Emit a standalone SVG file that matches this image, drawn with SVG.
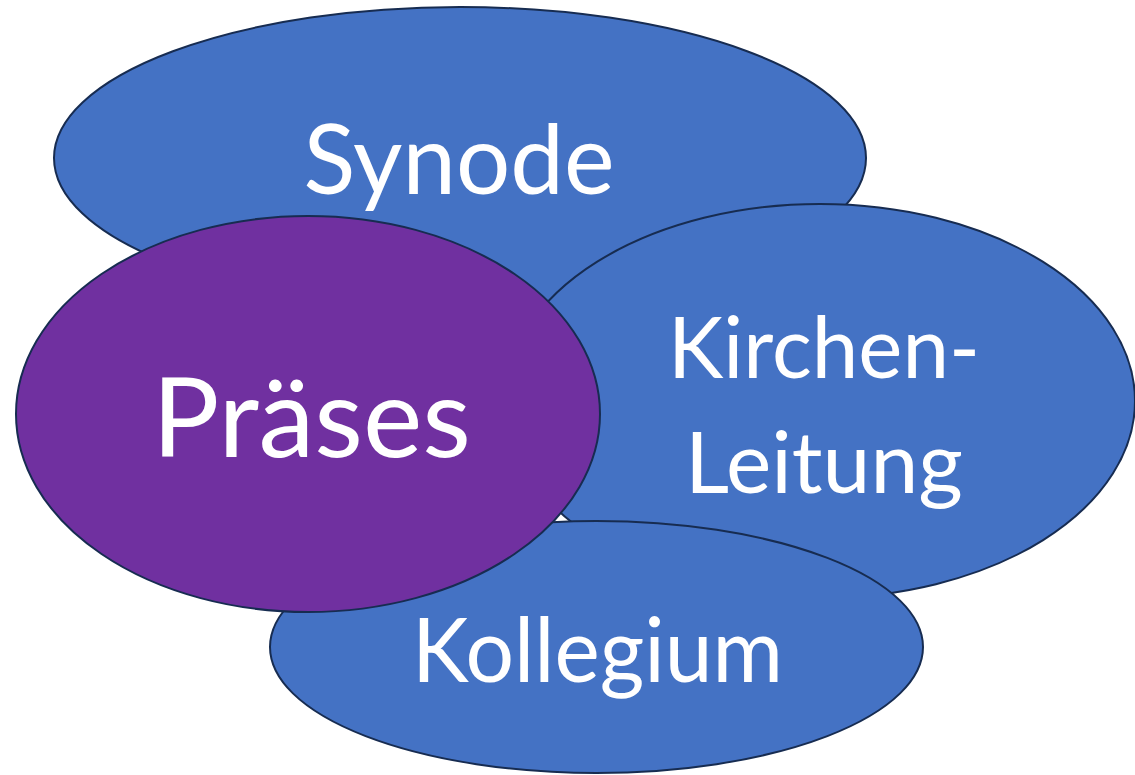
<svg xmlns="http://www.w3.org/2000/svg" width="1135" height="775" viewBox="0 0 1135 775">
<style>
.b{fill:#4472C4;stroke:#172C51;stroke-width:2}
.p{fill:#7030A0;stroke:#172C51;stroke-width:2}
.t{fill:#FFFFFF;font-family:Lato,"Open Sans","Liberation Sans",sans-serif;text-anchor:middle}
</style>
<rect width="1135" height="775" fill="#FFFFFF"/>
<g id="synode">
<ellipse class="b" cx="460" cy="158" rx="406" ry="151"/>
<text class="t" x="459" y="194" font-size="96" textLength="311" lengthAdjust="spacingAndGlyphs">Synode</text>
</g>
<g id="kirchenleitung">
<ellipse class="b" cx="820" cy="401" rx="315" ry="197"/>
<text class="t" x="824" y="378" font-size="86" textLength="312" lengthAdjust="spacingAndGlyphs">Kirchen-</text>
<text class="t" x="824" y="493" font-size="86" textLength="278" lengthAdjust="spacingAndGlyphs">Leitung</text>
</g>
<g id="kollegium">
<ellipse class="b" cx="596.5" cy="647" rx="326.5" ry="126"/>
<text class="t" x="597.5" y="682" font-size="90" textLength="371" lengthAdjust="spacingAndGlyphs">Kollegium</text>
</g>
<g id="praeses">
<ellipse class="p" cx="308" cy="414" rx="292" ry="198"/>
<text class="t" x="311.5" y="457" font-size="111" textLength="319" lengthAdjust="spacingAndGlyphs">Präses</text>
</g>
<g id="connectors"></g>
</svg>
